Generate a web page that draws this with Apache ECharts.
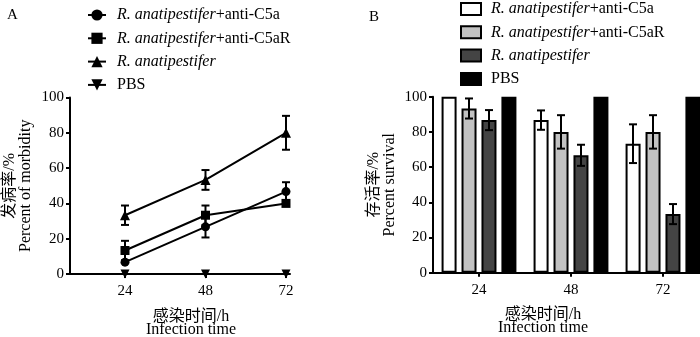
<!DOCTYPE html>
<html>
<head>
<meta charset="utf-8">
<script src="https://cdn.jsdelivr.net/npm/echarts@6/dist/echarts.min.js"></script>
<style>
  html, body { margin: 0; padding: 0; background: #fff; }
  #chart { width: 700px; height: 337px; }
</style>
</head>
<body>
<div id="chart"></div>
<script>
const hours = [24, 48, 72]
const hourLabels = ['24', '48', '72']
const yTicks = [0, 20, 40, 60, 80, 100]

// A: 发病率 (morbidity), mean and error
const morbC5a = [6.7, 26.7, 46.7]
const morbC5aErr = [0, 6, 5.3]
const morbC5aR = [13.3, 33.3, 40]
const morbC5aRErr = [5.5, 5.5, 0]
const morbRA = [33.3, 53.3, 80]
const morbRAErr = [5.5, 5.6, 9.6]
const morbPBS = [0, 0, 0]
const morbPBSErr = [0, 0, 0]

// B: 存活率 (survival), mean and error
const survC5a = [100, 86.7, 73.3]
const survC5aErr = [0, 5.5, 11]
const survC5aR = [93.3, 80, 80]
const survC5aRErr = [5.7, 9.5, 9.5]
const survRA = [86.7, 66.7, 33.3]
const survRAErr = [5.7, 6, 5.7]
const survPBS = [100, 100, 100]
const survPBSErr = [0, 0, 0]

const legendNames = [
  '{i|R. anatipestifer}{n|+anti-C5a}',
  '{i|R. anatipestifer}{n|+anti-C5aR}',
  '{i|R. anatipestifer}',
  '{n|PBS}'
]

const FONT = '"Liberation Serif", "Noto Sans CJK SC", serif'
const black = '#000'

function pairs(xs, ys, errs) {
  return xs.map((x, i) => [x, ys[i], errs[i]])
}

// error bar drawn around (x, y); dx shifts it onto its bar
function errorBar(dx) {
  return function(params, api) {
    const err = api.value(2)
    if (!err) return null
    const x = api.value(0)
    const y = api.value(1)
    const top = api.coord([x, y + err])
    const bot = api.coord([x, y - err])
    const cx = top[0] + dx
    const cap = 4
    const style = { stroke: black, lineWidth: 2 }
    return {
      type: 'group',
      children: [
        { type: 'line', shape: { x1: cx, y1: top[1], x2: cx, y2: bot[1] }, style },
        { type: 'line', shape: { x1: cx - cap, y1: top[1], x2: cx + cap, y2: top[1] }, style },
        { type: 'line', shape: { x1: cx - cap, y1: bot[1], x2: cx + cap, y2: bot[1] }, style }
      ]
    }
  }
}

const lineNames = ['A1', 'A2', 'A3', 'A4']
const barNames = ['B1', 'B2', 'B3', 'B4']
const morbData = [[morbC5a, morbC5aErr], [morbC5aR, morbC5aRErr], [morbRA, morbRAErr], [morbPBS, morbPBSErr]]
const survData = [[survC5a, survC5aErr], [survC5aR, survC5aRErr], [survRA, survRAErr], [survPBS, survPBSErr]]
const symbols = ['circle', 'rect', 'triangle', 'path://M0,0 L10,0 L5,10 Z']
const symbolSizes = [9, 9, 10, 9]
const barColors = ['#ffffff', '#c2c2c2', '#444444', '#000000']
const barOffsets = [-30, -10, 10, 30]

const series = []
lineNames.forEach((name, i) => {
  series.push({
    name: name,
    type: 'line',
    xAxisIndex: 0,
    yAxisIndex: 0,
    symbol: symbols[i],
    symbolSize: symbolSizes[i],
    showAllSymbol: true,
    itemStyle: { color: black },
    lineStyle: { color: black, width: 2 },
    data: hours.map((h, k) => [h, morbData[i][0][k]]),
    z: 3
  })
  series.push({
    type: 'custom',
    xAxisIndex: 0,
    yAxisIndex: 0,
    renderItem: errorBar(0),
    data: pairs(hours, morbData[i][0], morbData[i][1]),
    z: 4
  })
})
barNames.forEach((name, i) => {
  series.push({
    name: name,
    type: 'bar',
    xAxisIndex: 1,
    yAxisIndex: 1,
    barWidth: 15,
    barGap: '33%',
    itemStyle: { color: barColors[i], borderColor: black, borderWidth: 2 },
    data: survData[i][0]
  })
  series.push({
    type: 'custom',
    xAxisIndex: 1,
    yAxisIndex: 1,
    renderItem: errorBar(barOffsets[i]),
    data: pairs([0, 1, 2], survData[i][0], survData[i][1]),
    z: 4
  })
})

const axisLine = { lineStyle: { color: black, width: 2 } }
const yAxisCommon = {
  type: 'value',
  min: 0,
  max: 100,
  interval: 20,
  nameLocation: 'middle',
  nameRotate: 90,
  axisLine: { show: true, ...axisLine },
  axisTick: { show: true, length: 4, lineStyle: { color: black, width: 2 } },
  splitLine: { show: false },
  nameTextStyle: { fontFamily: FONT, fontSize: 16, color: black, lineHeight: 16 }
}

const richText = {
  i: { fontFamily: FONT, fontSize: 16, fontStyle: 'italic', color: black, lineHeight: 16 },
  n: { fontFamily: FONT, fontSize: 16, fontStyle: 'normal', color: black, lineHeight: 16 }
}

const legendCommon = {
  orient: 'vertical',
  selectedMode: false,
  padding: 0,
  formatter: function(name) {
    return legendNames[name.charAt(1) - 1]
  }
}

const options = {
  animation: false,
  textStyle: { fontFamily: FONT },
  title: [
    { text: 'A', left: 7, top: 8, padding: 0, textStyle: { fontFamily: FONT, fontSize: 15, fontWeight: 'normal', color: black } },
    { text: 'B', left: 369, top: 10, padding: 0, textStyle: { fontFamily: FONT, fontSize: 15, fontWeight: 'normal', color: black } }
  ],
  legend: [
    {
      ...legendCommon,
      data: lineNames,
      left: 87,
      top: 7,
      itemWidth: 18,
      itemHeight: 14,
      itemGap: 7.3,
      textStyle: { fontFamily: FONT, fontSize: 16, color: black, lineHeight: 16, padding: [0, 0, 0, 6], rich: richText }
    },
    {
      ...legendCommon,
      data: barNames,
      icon: 'rect',
      left: 460,
      top: 1,
      itemWidth: 20,
      itemHeight: 12,
      itemGap: 7.3,
      textStyle: { fontFamily: FONT, fontSize: 16, color: black, lineHeight: 16, padding: [0, 0, 0, 5], rich: richText }
    }
  ],
  grid: [
    { left: 70, right: 410, top: 97.5, bottom: 63, outerBoundsMode: 'none' },
    { left: 433, right: -9, top: 96.7, bottom: 64.3, outerBoundsMode: 'none' }
  ],
  xAxis: [
    {
      gridIndex: 0,
      type: 'value',
      min: 7.6,
      max: 73.2,
      name: '感染时间/h\nInfection time',
      nameLocation: 'middle',
      nameGap: 36,
      nameTextStyle: { fontFamily: FONT, fontSize: 16, color: black, lineHeight: 13, padding: [0, 0, 0, 22] },
      axisLine: axisLine,
      axisTick: { show: true, length: 4, customValues: hours, lineStyle: { color: black, width: 2 } },
      axisLabel: { customValues: hours, margin: 10, fontFamily: FONT, fontSize: 15, color: black },
      splitLine: { show: false }
    },
    {
      gridIndex: 1,
      type: 'category',
      data: hourLabels,
      name: '感染时间/h\nInfection time',
      nameLocation: 'middle',
      nameGap: 36,
      nameTextStyle: { fontFamily: FONT, fontSize: 16, color: black, lineHeight: 13, padding: [0, 56, 0, 0] },
      axisLine: axisLine,
      axisTick: { show: true, alignWithLabel: true, length: 4, lineStyle: { color: black, width: 2 } },
      axisLabel: { margin: 10, fontFamily: FONT, fontSize: 15, color: black },
      splitLine: { show: false }
    }
  ],
  yAxis: [
    {
      ...yAxisCommon,
      gridIndex: 0,
      name: '发病率/%\nPercent of morbidity',
      nameGap: 36,
      axisLabel: { margin: 6, fontFamily: FONT, fontSize: 15, color: black, customValues: yTicks }
    },
    {
      ...yAxisCommon,
      gridIndex: 1,
      name: '存活率/%\nPercent survival',
      nameGap: 35,
      axisLabel: { margin: 6, fontFamily: FONT, fontSize: 15, color: black, customValues: yTicks }
    }
  ],
  series: series
}

const chart = echarts.init(document.getElementById('chart'))
chart.setOption(options)
</script>
</body>
</html>
